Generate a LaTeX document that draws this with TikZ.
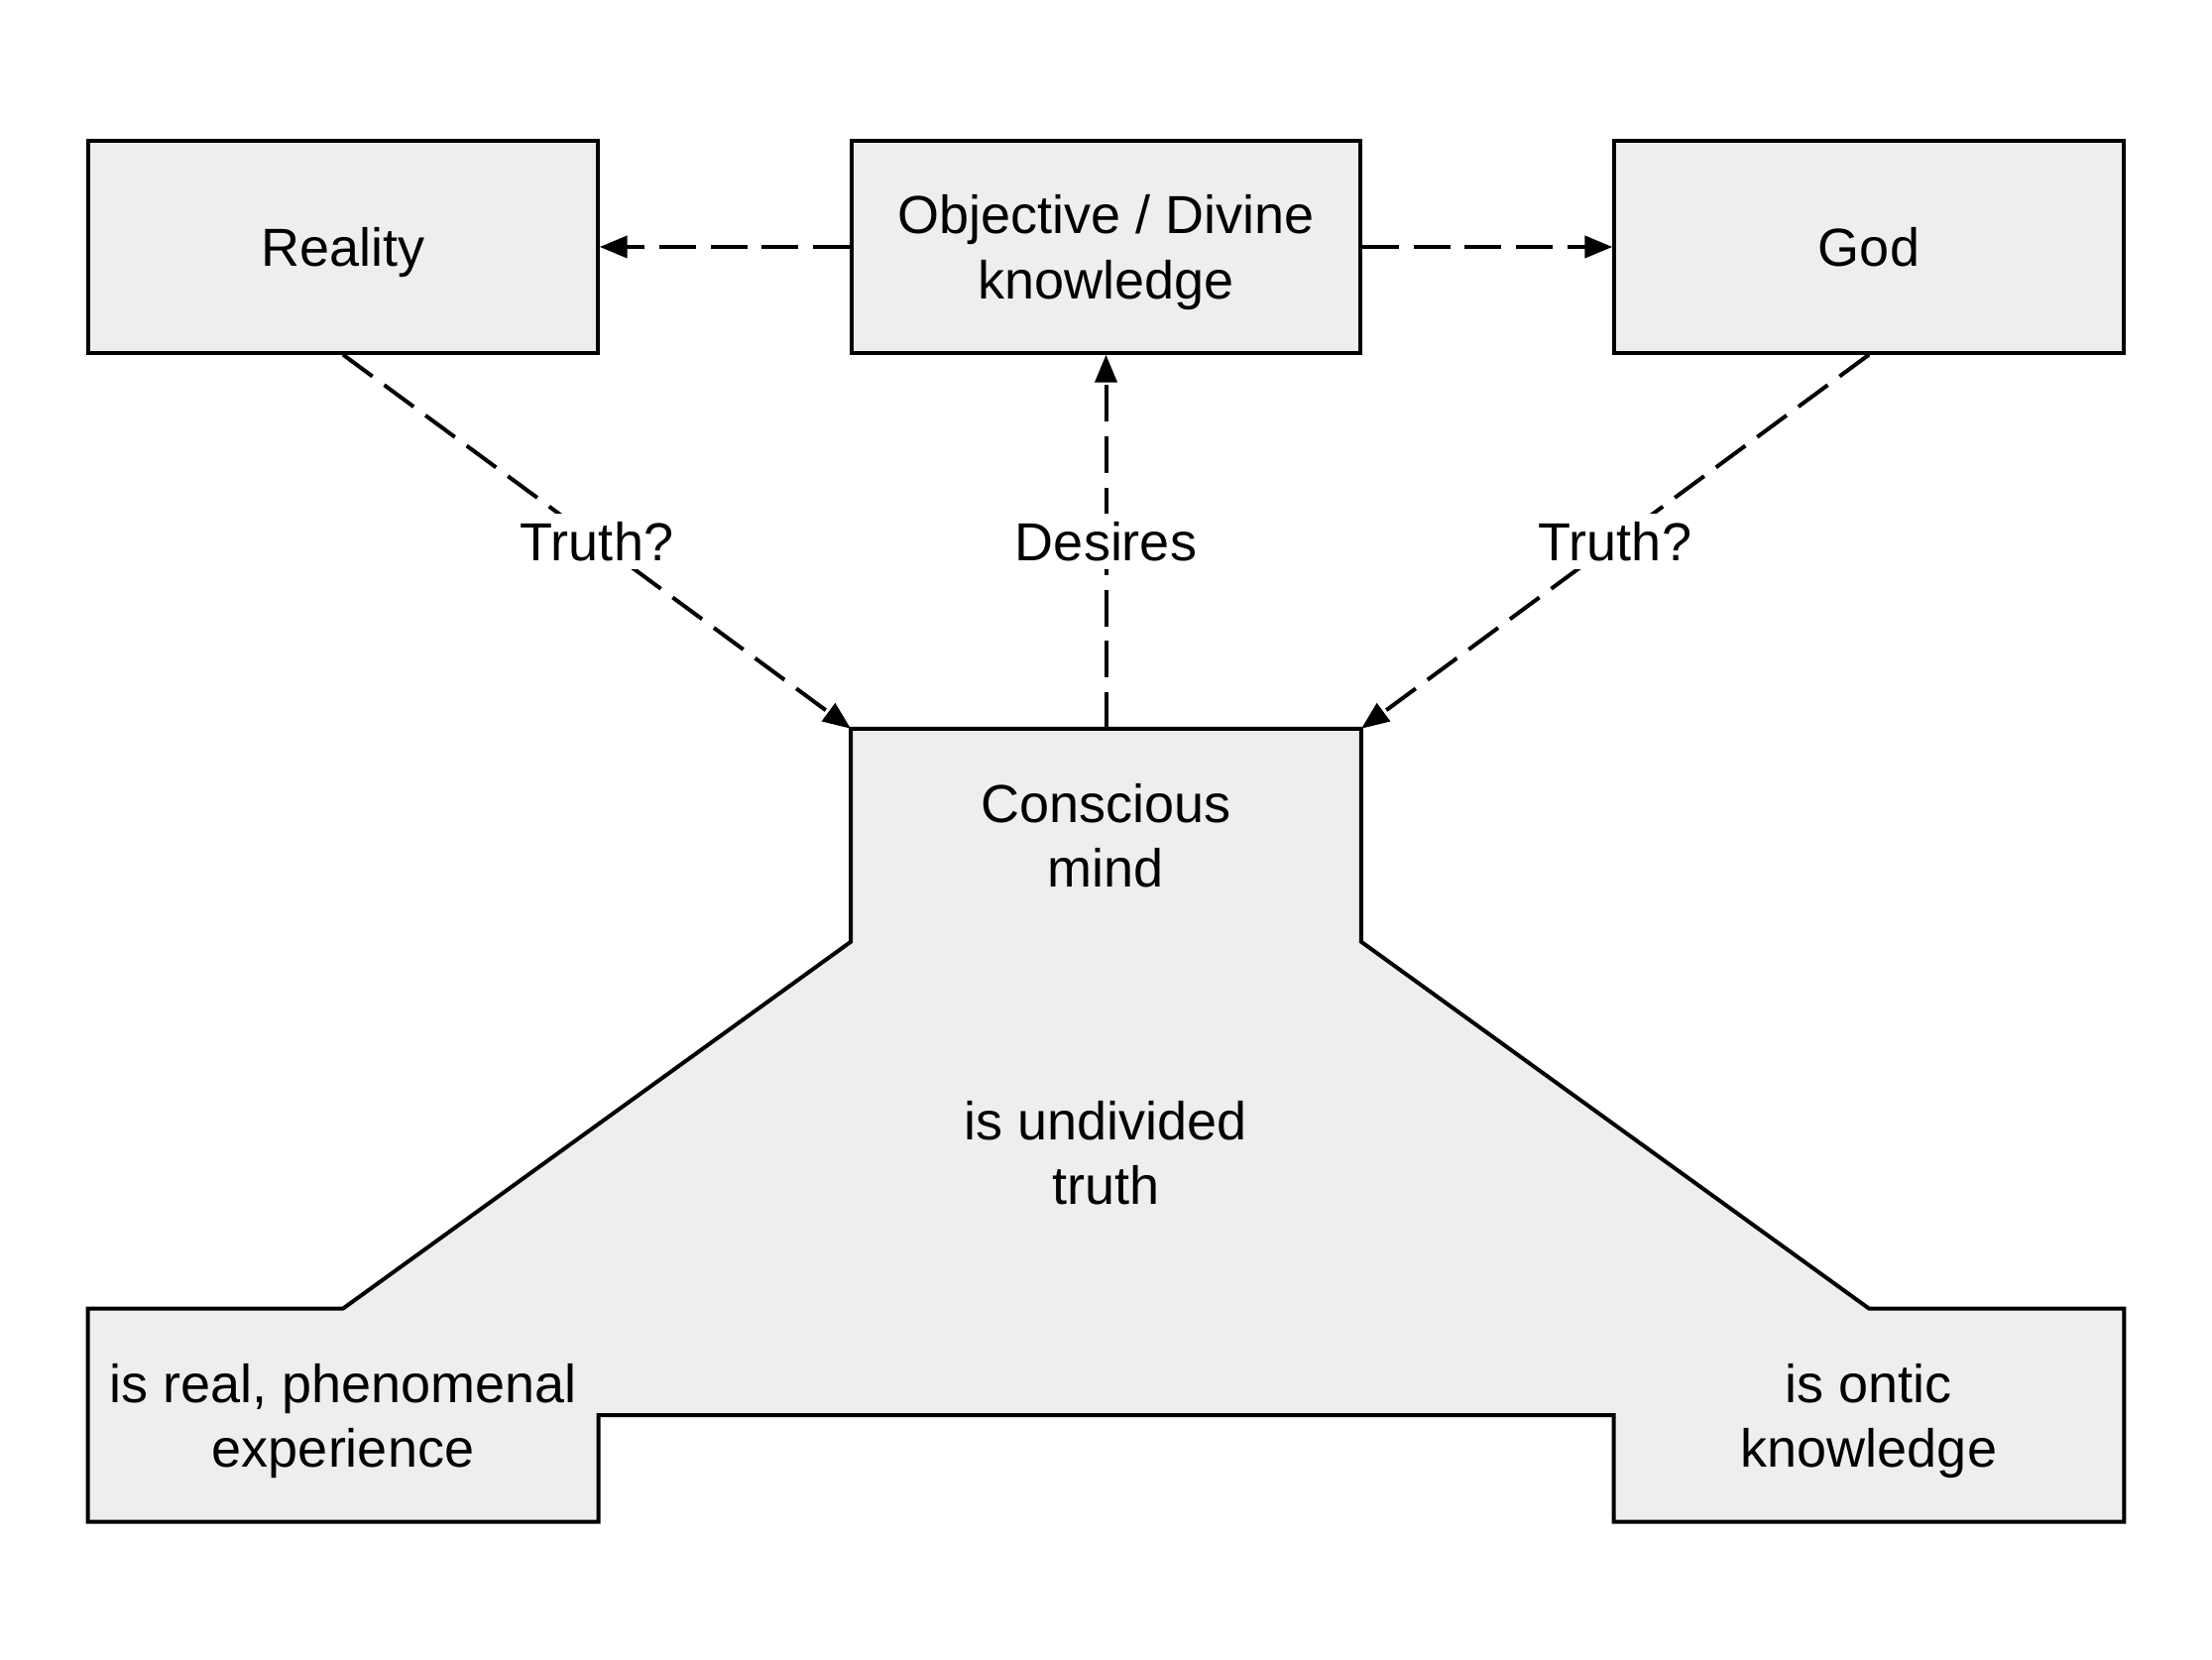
\documentclass[tikz,border=0pt]{standalone}
\usepackage{fontspec}
\setmainfont{Liberation Sans}
\definecolor{boxgray}{RGB}{238, 238, 238}
\usetikzlibrary{arrows.meta, positioning, backgrounds}
\tikzset{
	box/.style={rectangle, draw=black, fill=boxgray, line width=1pt, align=center, text depth=0pt, minimum width=4.51cm, minimum height=1.875cm, font=\fontsize{13.5pt}{16.3pt}\selectfont},
	part/.style={rectangle, align=center, text depth=0pt, minimum width=4.51cm, minimum height=1.875cm, inner sep=1pt, font=\fontsize{13.5pt}{16.3pt}\selectfont},
	lbl/.style={fill=white, inner sep=2pt, font=\fontsize{13.5pt}{16.3pt}\selectfont},
	link/.style={-{Triangle[length=7pt, width=5.5pt]}, line width=1pt, dash pattern=on 9.2pt off 3.7pt},
}

\begin{document}
\begin{tikzpicture}[node distance=2.215cm]
		\useasboundingbox (0,0) rectangle (19.6,-14.7);
		\node[box] (obj) at (9.8,-2.1875) {Objective / Divine\\knowledge};
		\node[box, left=of obj] (reality) {Reality};
		\node[box, right=of obj] (god) {God};
		\node[part, below=3.3125cm of obj] (mind) {Conscious\\mind};
		\node[part, below=8.45cm of reality] (real) {is real, phenomenal\\experience};
		\node[part, below=8.45cm of god] (ontic) {is ontic\\knowledge};
		\node[part] (undivided) at (9.8,-10.21) {is undivided\\truth};
		\begin{scope}[on background layer]
			\draw[fill=boxgray, line width=1pt, line join=miter] (mind.north west) -- (mind.north east) -- (mind.south east)
				-- (ontic.north) -- (ontic.north east) -- (ontic.south east) -- (ontic.south west) -- (ontic.west)
				-- (real.east) -- (real.south east) -- (real.south west) -- (real.north west) -- (real.north)
				-- (mind.south west) -- cycle;
		\end{scope}
		\draw[link] (obj) -- (reality);
		\draw[link] (obj) -- (god);
		\draw[link] (reality.south) -- node[lbl] {Truth?} (mind.north west);
		\draw[link] (god.south) -- node[lbl] {Truth?} (mind.north east);
		\draw[link] (mind.north) -- node[lbl] {Desires} (obj.south);
	\end{tikzpicture}
\end{document}
